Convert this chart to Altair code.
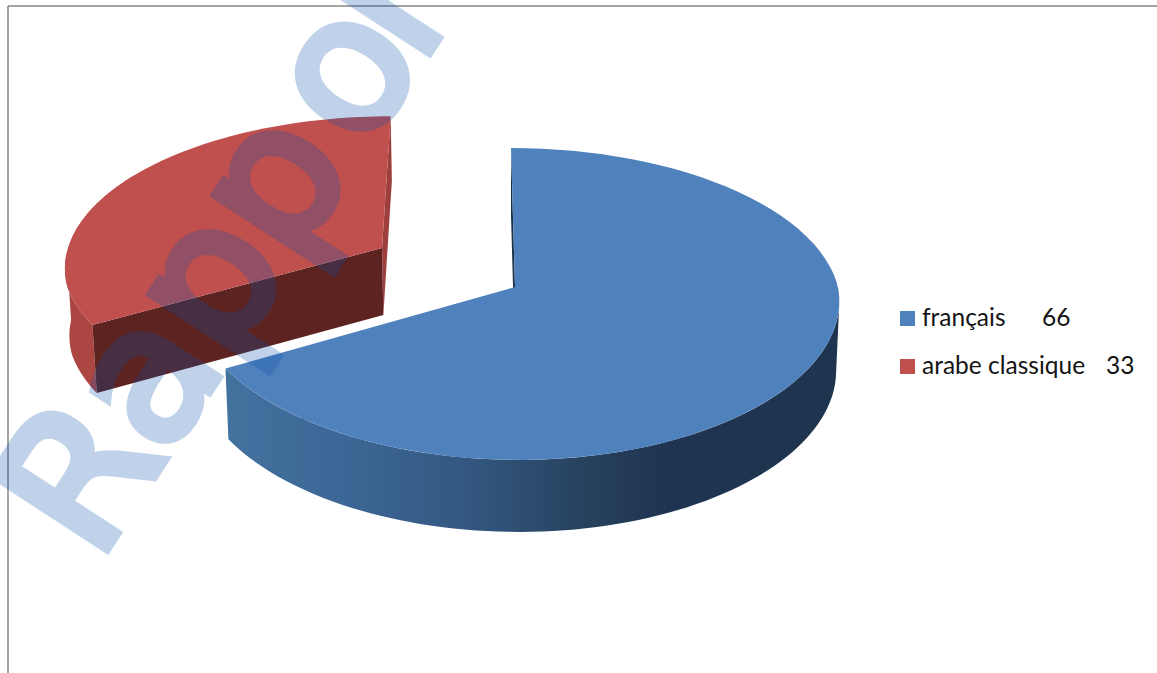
import numpy as np
import pandas as pd
import altair as alt

# Survey counts per language
languages = ["français", "arabe classique"]
counts = [66, 33]
top_colors = ["#4f81bd", "#c0504d"]
legend_text_x = [922, 922]
legend_value_x = [1042, 1106]
legend_y = [318.5, 366.5]

W, H = 1157, 673

# Perspective of the pie: disk coordinates (u, v) map to page pixels
CX, CY, RX, RY, PERSP, SKEW, SHEAR = 515.0, 287.0, 323.0, 154.1, -0.109, 4.0, -10.0
RED_OFFSET = (-0.42, -0.26)   # how far the second slice is pulled out of the pie
START_DEG = 0.0


def project(u, v, lower=False, sink=0.0):
    d = 1 + PERSP * v
    x = RX * u / d + SHEAR * u * np.maximum(v, 0)
    y = CY + RY * v / d
    if lower:
        x *= 0.99
        y += 69.5 + 2.5 * v - sink
    return CX + x + SKEW * v, y


def rim(a0, a1, offset=(0, 0), lower=False, n=80, sink=0.0):
    t = np.radians(np.linspace(a0, a1, n))
    return project(np.sin(t) + offset[0], -np.cos(t) + offset[1], lower, sink)


def centre(offset=(0, 0), lower=False, sink=0.0):
    return project(np.array([offset[0]]), np.array([offset[1]]), lower, sink)


def polygon(*pieces):
    xs = np.concatenate([p[0] for p in pieces])
    ys = np.concatenate([p[1] for p in pieces])
    return pd.DataFrame({"x": xs, "y": ys, "i": np.arange(len(xs))})


x_scale = alt.Scale(domain=[0, W], range=[0, W], nice=False, zero=False)
y_scale = alt.Scale(domain=[0, H], range=[0, H], nice=False, zero=False)
X = alt.X("x:Q", scale=x_scale, axis=None)
Y = alt.Y("y:Q", scale=y_scale, axis=None)


def face(df, fill):
    return alt.Chart(df).mark_line(fill=fill, stroke="#000000", strokeWidth=0).encode(
        x=X, y=Y, order=alt.Order("i:Q")
    )


# Slice angles follow the counts
total = sum(counts)
split = START_DEG + counts[0] / total * 360
end = START_DEG + 360
SINK = 2.0  # the pulled-out slice sits further back, so its wall looks shorter

blue_side = alt.Gradient(
    gradient="linear", x1=0, x2=1, y1=0, y2=0,
    stops=[
        alt.GradientStop(offset=0.0, color="#44729f"),
        alt.GradientStop(offset=0.2, color="#3c6695"),
        alt.GradientStop(offset=0.4, color="#335780"),
        alt.GradientStop(offset=0.58, color="#27425f"),
        alt.GradientStop(offset=0.72, color="#1f3450"),
        alt.GradientStop(offset=1.0, color="#1f344f"),
    ],
)

layers = [
    # French slice: inner sliver, outer wall, top
    face(polygon(centre(), rim(START_DEG, START_DEG, n=1),
                 rim(START_DEG, START_DEG, lower=True, n=1), centre(lower=True)), "#1c3148"),
    face(polygon(rim(96, split), rim(split, 96, lower=True)), blue_side),
    face(polygon(centre(), rim(START_DEG, split)), top_colors[0]),
    # Arabic slice, pulled out of the pie
    face(polygon(centre(RED_OFFSET), rim(end, end, RED_OFFSET, n=1),
                 rim(end, end, RED_OFFSET, True, n=1, sink=SINK),
                 centre(RED_OFFSET, True, SINK)), "#9d3f3c"),
    face(polygon(rim(split, 268, RED_OFFSET), rim(268, split, RED_OFFSET, True, sink=SINK)), "#ac4643"),
    face(polygon(centre(RED_OFFSET), rim(split, split, RED_OFFSET, n=1),
                 rim(split, split, RED_OFFSET, True, n=1, sink=SINK),
                 centre(RED_OFFSET, True, SINK)), "#5c2320"),
    face(polygon(centre(RED_OFFSET), rim(split, end, RED_OFFSET)), top_colors[1]),
]

# Legend
legend = pd.DataFrame({
    "name": languages, "count": counts, "color": top_colors,
    "tx": legend_text_x, "vx": legend_value_x, "y": legend_y,
})
legend["sx"] = 907.5
layers.append(
    alt.Chart(legend).mark_square(size=225, opacity=1, filled=True).encode(
        x=alt.X("sx:Q", scale=x_scale, axis=None), y=Y,
        color=alt.Color("color:N", scale=None),
    )
)
text_style = dict(font="Lato", fontSize=24.5, color="#141414", align="left", baseline="alphabetic", dy=7)
layers.append(
    alt.Chart(legend).mark_text(**text_style).encode(
        x=alt.X("tx:Q", scale=x_scale, axis=None), y=Y, text="name:N"
    )
)
layers.append(
    alt.Chart(legend).mark_text(**text_style).encode(
        x=alt.X("vx:Q", scale=x_scale, axis=None), y=Y, text="count:Q"
    )
)

# Page frame along the top and left edges
frame_color = "#868686"
layers.append(alt.Chart(pd.DataFrame({"x": [8], "x2": [W], "y": [6]})).mark_rule(
    color=frame_color, strokeWidth=1.5).encode(
    x=X, x2="x2:Q", y=Y))
layers.append(alt.Chart(pd.DataFrame({"x": [8], "y": [6], "y2": [H]})).mark_rule(
    color=frame_color, strokeWidth=1.5).encode(
    x=X, y=Y, y2="y2:Q"))

# Diagonal watermark across the page, set in three runs so the "o" sits tight against the "r"
watermark = pd.DataFrame({
    "x": [97, 364, 420],
    "y": [564, 152, 66.6],
    "label": ["Rapp", "o", "rt"],
})
layers.append(
    alt.Chart(watermark).mark_text(
        font="DejaVu Sans", fontSize=186, angle=303, align="left", baseline="alphabetic",
        fill="#0a50ac", stroke="#0a50ac", strokeWidth=9, strokeJoin="miter", strokeMiterLimit=3,
        opacity=0.25,
    ).encode(x=X, y=Y, text="label:N")
)

chart = (
    alt.layer(*layers)
    .properties(
        width=W, height=H, padding=0,
        autosize=alt.AutoSizeParams(type="none"),
        background="#ffffff",
    )
    .configure_view(stroke=None)
)

chart.save("out.html", embed_options={"renderer": "svg", "actions": False})
